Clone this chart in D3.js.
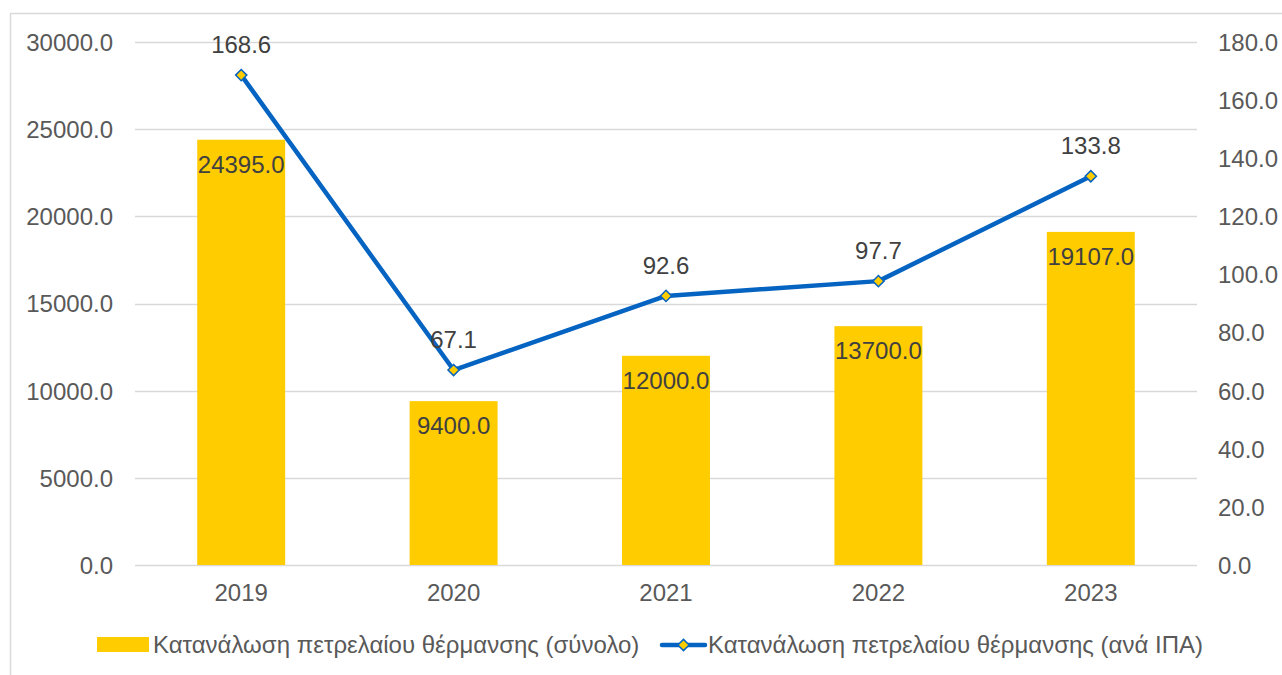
<!DOCTYPE html>
<html>
<head>
<meta charset="utf-8">
<script src="https://cdn.jsdelivr.net/npm/d3@7"></script>
<style>
  body { margin: 0; background: #fff; }
  text { font-family: "Liberation Sans", Arial, sans-serif; fill: #595959; }
</style>
</head>
<body>
<svg width="1282" height="675"></svg>
<script>
// data
var years = ["2019", "2020", "2021", "2022", "2023"];
var totals = [24395.0, 9400.0, 12000.0, 13700.0, 19107.0];
var perIPA = [168.6, 67.1, 92.6, 97.7, 133.8];
var leftTicks = [0, 5000, 10000, 15000, 20000, 25000, 30000];
var rightTicks = [0, 20, 40, 60, 80, 100, 120, 140, 160, 180];
var barName = "Κατανάλωση πετρελαίου θέρμανσης (σύνολο)";
var lineName = "Κατανάλωση πετρελαίου θέρμανσης (ανά ΙΠΑ)";

var svg = d3.select("svg");
var yellow = "#FFCC00", blue = "#0563C1", grid = "#D9D9D9";
var fs = "24px";

// chart border
svg.append("rect")
  .attr("x", 10.5).attr("y", 13.5)
  .attr("width", 1300).attr("height", 700)
  .attr("fill", "none").attr("stroke", grid).attr("stroke-width", 1.5);

var plotLeft = 135, plotRight = 1197, plotTop = 42, plotBottom = 565;

var x = d3.scaleBand().domain(years).range([plotLeft, plotRight]).paddingInner(0.586).paddingOuter(0.293);
var y = d3.scaleLinear().domain([0, 30000]).range([plotBottom, plotTop]);
var y2 = d3.scaleLinear().domain([0, 180]).range([plotBottom, plotTop]);

// gridlines
svg.append("g").selectAll("line")
  .data(leftTicks)
  .enter().append("line")
  .attr("x1", plotLeft).attr("x2", plotRight)
  .attr("y1", function (d) { return Math.round(y(d)) + 0.5; })
  .attr("y2", function (d) { return Math.round(y(d)) + 0.5; })
  .attr("stroke", grid).attr("stroke-width", 1.5);

// left axis
var gl = svg.append("g")
  .attr("transform", "translate(" + (plotLeft - 22) + ",0)")
  .call(d3.axisLeft(y).tickValues(leftTicks).tickFormat(d3.format(".1f")).tickSize(0).tickPadding(0));
gl.select(".domain").remove();
gl.selectAll("text").style("font-size", fs).attr("fill", null).attr("dy", "0.35em");
gl.attr("font-family", null).attr("font-size", null);

// right axis
var gr = svg.append("g")
  .attr("transform", "translate(" + (plotRight + 21) + ",0)")
  .call(d3.axisRight(y2).tickValues(rightTicks).tickFormat(d3.format(".1f")).tickSize(0).tickPadding(0));
gr.select(".domain").remove();
gr.selectAll("text").style("font-size", fs).attr("fill", null).attr("dy", "0.35em");
gr.attr("font-family", null).attr("font-size", null);

// x axis labels
svg.append("g").selectAll("text")
  .data(years)
  .enter().append("text")
  .attr("x", function (d) { return x(d) + x.bandwidth() / 2; })
  .attr("y", plotBottom + 36)
  .attr("text-anchor", "middle")
  .style("font-size", fs)
  .text(function (d) { return d; });

// bars
svg.append("g").selectAll("rect")
  .data(totals)
  .enter().append("rect")
  .attr("x", function (d, i) { return x(years[i]); })
  .attr("y", function (d) { return y(d); })
  .attr("width", x.bandwidth())
  .attr("height", function (d) { return plotBottom - y(d); })
  .attr("fill", yellow);

svg.append("g").selectAll("text")
  .data(totals)
  .enter().append("text")
  .attr("x", function (d, i) { return x(years[i]) + x.bandwidth() / 2; })
  .attr("y", function (d) { return y(d) + 33; })
  .attr("text-anchor", "middle")
  .style("font-size", fs)
  .style("fill", "#404040")
  .text(function (d) { return d3.format(".1f")(d); });

// line
var cx = function (d, i) { return x(years[i]) + x.bandwidth() / 2; };
var line = d3.line()
  .x(cx)
  .y(function (d) { return y2(d); });

svg.append("path")
  .datum(perIPA)
  .attr("d", line)
  .attr("fill", "none")
  .attr("stroke", blue)
  .attr("stroke-width", 4.5)
  .attr("stroke-linejoin", "round");

var diamond = d3.symbol().type(d3.symbolDiamond2).size(80);
svg.append("g").selectAll("path")
  .data(perIPA)
  .enter().append("path")
  .attr("d", diamond)
  .attr("transform", function (d, i) { return "translate(" + cx(d, i) + "," + y2(d) + ")"; })
  .attr("fill", yellow)
  .attr("stroke", blue)
  .attr("stroke-width", 1.5);

svg.append("g").selectAll("text")
  .data(perIPA)
  .enter().append("text")
  .attr("x", cx)
  .attr("y", function (d) { return y2(d) - 22; })
  .attr("text-anchor", "middle")
  .style("font-size", fs)
  .style("fill", "#404040")
  .text(function (d) { return d3.format(".1f")(d); });

// legend
var lg = svg.append("g");
lg.append("rect")
  .attr("x", 97).attr("y", 637).attr("width", 52).attr("height", 15)
  .attr("fill", yellow);
lg.append("text")
  .attr("x", 153).attr("y", 645).attr("dy", "0.35em")
  .style("font-size", fs)
  .text(barName);
lg.append("line")
  .attr("x1", 662).attr("x2", 705).attr("y1", 645).attr("y2", 645)
  .attr("stroke", blue).attr("stroke-width", 4.5).attr("stroke-linecap", "round");
lg.append("path")
  .attr("d", diamond)
  .attr("transform", "translate(683.5,645)")
  .attr("fill", yellow).attr("stroke", blue).attr("stroke-width", 1.5);
lg.append("text")
  .attr("x", 708).attr("y", 645).attr("dy", "0.35em")
  .style("font-size", fs)
  .text(lineName);
</script>
</body>
</html>
